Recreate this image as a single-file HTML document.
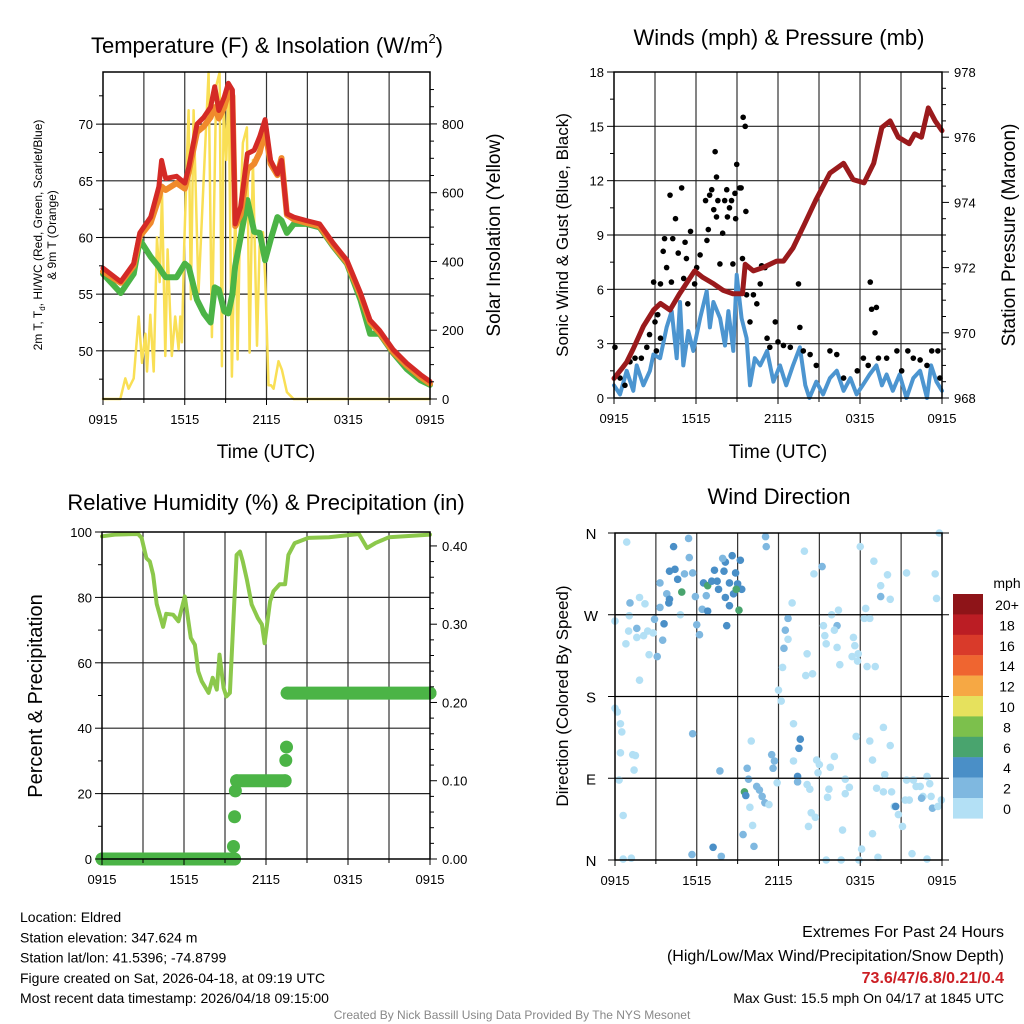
<!DOCTYPE html>
<html><head><meta charset="utf-8"><style>
html,body{margin:0;padding:0;background:#fff;}
svg{display:block;font-family:"Liberation Sans",sans-serif;}
</style></head><body>
<svg id="c" width="1024" height="1024" viewBox="0 0 1024 1024" xmlns="http://www.w3.org/2000/svg"></svg>
<script>
// ---------- DATA ----------
const xTickLabels = ["0915","1515","2115","0315","0915"];
const tempTime = [0,1.3,2.25,2.7,3.5,4.1,4.3,4.6,5.4,6.0,6.3,6.9,7.4,7.9,8.2,8.5,8.9,9.2,9.5,9.7,10.1,10.6,11.1,11.5,11.9,12.3,12.8,13.1,13.5,14.0,14.9,15.9,16.9,17.9,18.9,19.6,20.3,21.3,22.3,23.3,24];
const tempRed = [57.3,56.1,57.7,60.4,61.8,64.5,66.8,65.2,65.4,64.8,66.2,70.0,70.6,71.5,73.3,71.2,72.4,73.6,73.0,61.2,62.7,67.4,67.7,68.9,70.4,66.8,65.6,66.8,62.1,61.8,61.5,61.2,59.5,58.0,55.1,52.7,51.8,50.1,48.9,47.9,47.3];
const tempOrange = [57.0,56.0,57.5,60.1,61.3,63.5,64.5,64.2,64.8,64.3,65.8,69.3,69.8,70.6,71.5,70.5,71.5,72.8,72.5,61.0,62.0,66.0,66.5,67.5,69.5,66.5,65.5,67.0,62.0,61.6,61.3,61.0,59.3,57.8,54.9,52.5,51.6,49.9,48.7,47.7,47.1];
const dewGreen = [56.8,55.1,56.8,59.8,58.3,57.4,57.0,56.5,56.5,57.7,57.4,54.5,53.3,52.5,55.6,55.4,53.5,53.3,55.0,57.5,60.0,63.3,60.5,60.4,58.0,59.8,61.8,61.5,60.4,61.2,61.2,60.9,59.2,57.7,54.5,51.5,51.5,49.8,48.4,47.4,47.0];
const solarTime = [0,1.27,1.64,1.88,2.25,2.62,2.86,3.11,3.23,3.47,3.72,3.96,4.16,4.33,4.57,4.74,5.05,5.3,5.55,5.67,5.79,5.96,6.1,6.28,6.45,6.65,7.01,7.75,7.99,8.31,8.56,8.73,8.85,9.05,9.22,9.46,9.71,9.88,10.07,10.27,10.56,10.76,11.0,11.3,11.49,11.74,11.91,12.15,12.33,12.52,12.88,13.13,13.5,13.99,24];
const solarVals = [0,0,60,30,60,240,105,190,80,245,80,470,340,600,125,435,125,240,145,240,165,445,620,840,290,840,310,950,180,910,950,95,850,695,920,65,570,115,545,745,790,135,695,155,445,485,345,40,40,30,110,85,20,0,0];
const presTime = [0,0.56,0.93,1.4,2.15,2.9,3.4,4.1,4.8,5.9,6.5,7.3,8.0,8.7,9.4,9.6,10.2,10.9,11.9,12.4,13.1,13.9,14.8,15.8,16.8,17.5,18.3,19.0,19.6,20.2,20.8,21.6,22.0,22.5,23.0,23.5,24];
const presVals = [968.6,968.9,969.1,969.5,970.2,970.7,970.9,970.7,971.2,971.9,971.7,971.5,971.3,971.2,971.2,972.1,971.9,972.0,972.2,972.2,972.6,973.3,974.1,974.9,975.2,974.7,974.6,975.2,976.3,976.5,976.0,975.8,976.1,976.0,976.9,976.5,976.2];
const windTime = [0,0.44,0.93,1.41,1.66,2.15,2.63,2.88,3.37,3.85,4.22,4.59,4.83,5.07,5.44,5.8,6.3,6.78,7.02,7.27,7.76,8.12,8.37,8.73,8.98,9.34,9.7,9.95,10.3,10.7,11.2,11.66,12.15,12.6,13.1,13.6,14.0,14.3,14.8,15.3,15.8,16.3,16.8,17.3,17.75,18.2,18.7,19.2,19.6,19.95,20.4,20.9,21.4,21.9,22.4,22.9,23.2,23.6,24];
const windVals = [0.7,0.2,1.5,0.4,1.8,0.7,1.5,2.4,2.2,3.9,4.8,2.2,5.3,1.8,3.7,2.6,4.4,5.9,3.9,5.3,4.4,2.9,4.8,2.6,6.8,4.4,3.3,0.7,2.2,1.8,2.6,0.9,1.8,0.7,1.8,2.8,0.7,0,0.9,0.2,1.1,1.5,0.4,1.1,0.2,0.7,1.3,1.8,0.7,1.3,0.4,1.3,0,1.1,1.5,0,1.8,0.9,0.4];
const gustTime = [0.07,0.44,0.8,1.17,1.54,2.0,2.4,2.6,3.0,3.2,3.4,3.1,2.9,3.4,3.6,3.7,3.85,4.1,4.2,4.3,4.5,4.7,4.95,5.1,5.2,5.3,5.6,5.4,5.9,6.05,6.3,6.7,6.8,6.9,7.0,7.15,7.3,7.4,7.5,7.5,7.6,7.75,7.95,8.1,8.25,8.3,8.45,8.6,8.7,8.85,8.9,8.98,9.2,9.3,9.4,9.45,9.6,9.65,9.7,9.95,10.2,10.45,10.7,10.8,11.05,11.2,11.4,11.8,12.0,12.4,12.9,13.5,13.6,13.85,14.35,14.8,15.8,16.3,16.8,17.8,18.25,18.6,18.75,18.85,19.2,19.1,19.35,19.95,20.7,21.05,21.5,21.9,22.4,22.9,23.25,23.7,23.85];
const gustVals = [2.8,1.1,0.7,2.0,2.2,2.2,2.8,3.5,4.2,4.6,3.3,2.6,6.4,6.3,8.1,8.8,7.2,11.2,6.4,8.8,9.9,8.0,11.6,6.6,8.6,7.7,9.2,5.2,6.3,7.2,7.9,10.9,8.7,9.3,11.2,11.5,10.4,13.6,12.2,10.0,10.9,7.4,9.1,10.9,11.5,10.0,10.5,10.9,7.4,11.3,9.9,12.9,11.6,11.6,7.7,15.5,15.0,10.3,5.7,4.2,5.7,5.2,6.3,7.3,7.2,3.3,2.8,4.2,3.1,2.9,2.8,6.3,3.9,2.6,2.4,1.8,2.6,2.4,1.1,1.5,2.2,1.8,6.4,4.9,5.0,3.6,2.2,2.2,2.6,1.5,2.6,2.2,2.1,1.8,2.6,2.6,1.1];
const rhTime = [0,0.93,2.64,2.9,3.25,3.5,3.74,4.0,4.47,4.7,5.2,5.6,6.06,6.5,6.8,7.04,7.3,7.8,8.1,8.4,8.6,8.9,9.1,9.36,9.6,9.85,10.1,10.3,10.6,10.95,11.4,11.7,11.9,12.3,12.55,13.0,13.4,13.64,14.1,15.1,16.6,18.8,19.4,20.0,21.0,24];
const rhVals = [98.7,99.2,99.4,98.2,92,91,87,78,71,75,74.7,72.7,80.3,67.6,65.5,57.4,54.3,50.8,55.4,51.8,62.5,52.3,49.7,50.8,71.7,93,94,91,85.4,77.8,73.7,71.7,66,78.8,81.9,84,84,93,96.6,98.2,98.4,99.4,95.1,96.6,98.4,99.2];
const precipTime = [0,9.7,9.62,9.7,9.76,9.85,13.4,13.45,13.5,13.55,24];
const precipVals = [0,0,0.016,0.054,0.087,0.1,0.1,0.126,0.143,0.212,0.212];
const dirTime = [0.86,0,1.1,1.8,2.2,1.05,1.6,1.0,0.8,1.6,2.1,2.4,2.8,2.5,3.1,1.8,2.9,3.3,3.6,3.5,3.3,3.8,4.0,3.95,4.9,4.0,4.4,4.6,5.1,4.3,5.4,5.45,4.8,5.7,5.9,6.0,6.2,6.4,6.8,6.7,6.5,6.8,7.1,7.3,7.6,7.5,8.0,8.1,8.6,8.85,8.4,8.1,8.4,8.7,9.0,9.2,9.3,8.9,9.1,8.2,7.9,11.05,11.1,13.9,14.6,15.2,18.0,19.0,20.0,19.5,19.5,20.2,21.4,23.5,23.6,23.8,18.4,18.3,18.7,16.4,15.9,15.3,16.3,16.1,15.4,15.5,16.3,16.5,17.5,17.6,17.4,17.85,17.8,18.5,19.1,12.7,13.0,12.5,12.7,12.4,12.3,14.1,14.0,14.5,12.0,12.2,0,0.17,0.4,0.5,0.4,1.3,1.5,1.4,0.3,0.6,0.6,1.2,5.7,7.7,7.2,5.65,7.8,10.0,9.7,9.8,9.5,9.6,9.9,10.1,9.4,10.2,10.4,10.6,10.8,11.0,11.3,11.5,11.7,11.6,11.9,13.1,13.1,13.6,13.5,13.4,13.4,14.1,14.3,14.4,14.7,14.2,14.8,15.0,14.9,15.8,16.1,15.7,15.6,16.9,17.2,16.9,16.7,15.5,16.6,17.9,18.1,19.3,18.9,17.7,18.7,18.9,19.8,19.7,20.2,19.2,19.7,20.3,20.5,20.6,20.8,21.1,21.4,21.3,21.8,21.9,22.1,22.4,22.6,22.9,23.1,22.5,23.2,23.3,23.7,23.95,22.9,21.6];
const dirDeg = [350,263,283,289,282,269,255,252,238,245,247,252,250,226,224,198,265,278,260,242,305,293,287,283,295,318,320,309,315,345,354,333,270,316,290,259,248,276,274,291,305,302,307,319,298,307,318,328,335,316,305,289,280,293,304,330,298,298,275,258,332,356,345,340,315,323,345,329,314,302,290,287,316,315,288,360,277,266,266,275,270,258,258,253,247,238,234,215,245,236,224,227,219,213,213,266,283,253,243,233,212,227,203,205,187,175,167,163,150,141,118,116,115,99,88,49,1,2,139,98,14,6,4,131,101,89,75,71,58,38,28,15,81,77,70,63,61,116,109,101,85,150,109,133,123,92,86,83,78,52,47,37,110,105,96,102,114,78,69,89,80,73,33,0,0,0,12,3,29,136,131,110,94,146,126,79,75,75,59,59,50,37,88,66,7,88,81,81,70,92,84,68,70,57,59,66,1,66];
const dirSpeed = [1,1,3,1,1,1,3,1,1,1,1,1,1,1,3,1,3,3,5,3,3,3,5,5,7,5,5,5,3,5,3,3,1,3,3,3,3,3,5,3,5,7,5,5,5,5,5,5,5,5,5,5,5,5,5,5,5,7,7,5,3,3,3,1,1,3,1,1,1,1,3,1,1,1,1,1,1,1,1,1,1,1,3,1,1,1,1,1,1,1,1,1,1,1,1,3,1,3,1,3,1,1,1,1,1,1,1,1,1,1,1,1,1,1,1,1,1,1,3,3,5,3,3,1,3,3,7,5,1,1,3,3,3,3,3,3,1,3,3,3,1,1,1,5,5,5,3,1,1,1,1,1,1,1,1,1,1,1,1,1,1,1,1,1,1,1,1,1,1,1,1,1,1,1,1,1,1,1,1,5,1,1,1,1,1,1,1,1,1,1,1,3,1,3,1,1,1,1,1,1];
const cbarLabels = ["20+","18","16","14","12","10","8","6","4","2","0"];
const cbarColors = ["#8e1418","#bb1d24","#d93a2a","#ef6530","#f6a844","#e6e15d","#7cc04c","#49a46e","#4a8fc7","#7fb8e0","#b3e0f5"];

// ---------- DRAWING ----------
const svg = document.getElementById('c');
const NS = "http://www.w3.org/2000/svg";
function mk(tag, attrs, parent){
  const e = document.createElementNS(NS, tag);
  for (const k in attrs) e.setAttribute(k, attrs[k]);
  (parent||svg).appendChild(e);
  return e;
}
function txt(s, x, y, size, anchor, rot, name, fill, weight){
  const t = mk('text', {x:x, y:y, 'font-size':size, 'text-anchor':anchor||'middle', fill:fill||'#000'});
  if (weight) t.setAttribute('font-weight', weight);
  if (rot) t.setAttribute('transform', 'rotate(' + rot + ' ' + x + ' ' + y + ')');
  t.textContent = s;
  
  
  return t;
}
function panel(p){
  const g = mk('g', {});
  
  
  p.g = g;
  p.sx = t => p.x0 + t / 24 * (p.x1 - p.x0);
  p.sy = v => p.y1 - (v - p.lmin) / (p.lmax - p.lmin) * (p.y1 - p.y0);
  p.sy2 = v => p.y1 - (v - p.rmin) / (p.rmax - p.rmin) * (p.y1 - p.y0);
  for (let i = 1; i < 8; i++){
    const x = p.sx(i*3);
    const l = mk('line', {x1:x, x2:x, y1:p.y0, y2:p.y1, stroke:'#333', 'stroke-width':1.2}, g);
    
    
  }
  p.hgrid.forEach(v => {
    const y = p.sy(v);
    const l = mk('line', {x1:p.x0, x2:p.x1, y1:y, y2:y, stroke:'#222', 'stroke-width':1.2}, g);
    
    
  });
  return g;
}
function frame(p){
  const r = mk('rect', {x:p.x0, y:p.y0, width:p.x1-p.x0, height:p.y1-p.y0, fill:'none', stroke:'#000', 'stroke-width':1.5}, p.g);
  
  
  xTickLabels.forEach((s,i) => {
    const x = p.sx(i*6);
    mk('line', {x1:x, x2:x, y1:p.y1, y2:p.y1+6, stroke:'#000'}, p.g);
    txt(s, x, p.y1+25, 13, 'middle', 0, 'x-tick-label');
  });
  for (let i = 1; i < 8; i++) if (i%2) { const x=p.sx(i*3); mk('line',{x1:x,x2:x,y1:p.y1,y2:p.y1+4,stroke:'#000'},p.g); }
}
function leftTicks(p, vals, labels, minor){
  vals.forEach((v,i)=>{ const y=p.sy(v); mk('line',{x1:p.x0-7,x2:p.x0,y1:y,y2:y,stroke:'#000'},p.g); if(labels) txt(labels[i], p.x0-10, y+5, 13, 'end', 0, 'y-tick-label'); });
  (minor||[]).forEach(v=>{ const y=p.sy(v); mk('line',{x1:p.x0-4,x2:p.x0,y1:y,y2:y,stroke:'#000'},p.g); });
}
function rightTicks(p, vals, labels, minor){
  vals.forEach((v,i)=>{ const y=p.sy2(v); mk('line',{x1:p.x1,x2:p.x1+7,y1:y,y2:y,stroke:'#000'},p.g); txt(labels[i], p.x1+12, y+5, 13, 'start', 0, 'y2-tick-label'); });
  (minor||[]).forEach(v=>{ const y=p.sy2(v); mk('line',{x1:p.x1,x2:p.x1+4,y1:y,y2:y,stroke:'#000'},p.g); });
}
function line(p, ts, vs, right, color, w, name){
  const d = ts.map((t,i)=> (i?'L':'M') + p.sx(t).toFixed(1) + ',' + (right?p.sy2(vs[i]):p.sy(vs[i])).toFixed(1)).join('');
  const e = mk('path', {d:d, fill:'none', stroke:color, 'stroke-width':w, 'stroke-linejoin':'round', 'stroke-linecap':'round'}, p.g);
  
  
  return e;
}

// Panel 1: temperature
const P1 = {name:'temperature-panel', x0:103, x1:430, y0:72, y1:399, lmin:45.75, lmax:74.6, rmin:0, rmax:951, hgrid:[50,55,60,65,70]};
panel(P1);
line(P1, solarTime, solarVals, true, '#f9df55', 2.5, 'solar-insolation-line');
line(P1, tempTime, dewGreen, false, '#4bb446', 6, 'dewpoint-line');
line(P1, tempTime, tempOrange, false, '#f08a2c', 6, 'temp-9m-line');
line(P1, tempTime, tempRed, false, '#d42a26', 5, 'temp-2m-line');
frame(P1);
leftTicks(P1, [50,55,60,65,70], ['50','55','60','65','70'], [47.5,52.5,57.5,62.5,67.5,72.5]);
rightTicks(P1, [0,200,400,600,800], ['0','200','400','600','800'], [50,100,150,250,300,350,450,500,550,650,700,750,850,900]);
{
  const t = mk('text', {x:267, y:53, 'font-size':22, 'text-anchor':'middle'});
  
  
  const a = mk('tspan', {}, t); a.textContent = 'Temperature (F) & Insolation (W/m';
  const b = mk('tspan', {'font-size':13, dy:-10}, t); b.textContent = '2';
  const c = mk('tspan', {dy:10}, t); c.textContent = ')';
}
{
  const t = mk('text', {x:42, y:235, 'font-size':12, 'text-anchor':'middle', transform:'rotate(-90 42 235)'});
  
  
  const a = mk('tspan', {}, t); a.textContent = '2m T, T';
  const b = mk('tspan', {'font-size':8, dy:3}, t); b.textContent = 'd';
  const c = mk('tspan', {dy:-3}, t); c.textContent = ', HI/WC (Red, Green, Scarlet/Blue)';
}
txt('& 9m T (Orange)', 56, 235, 12, 'middle', -90, 'temperature-y-label-2');
txt('Solar Insolation (Yellow)', 500, 235, 19, 'middle', -90, 'solar-y-label');
txt('Time (UTC)', 266, 458, 19, 'middle', 0, 'x-axis-title');

// Panel 2: winds
const P2 = {name:'winds-panel', x0:614, x1:942, y0:72, y1:398, lmin:0, lmax:18, rmin:968, rmax:978, hgrid:[3,6,9,12,15]};
panel(P2);
line(P2, windTime, windVals, false, '#4c95d0', 4, 'sustained-wind-line');
gustTime.forEach((t,i)=>{
  const c = mk('circle', {cx:P2.sx(t), cy:P2.sy(gustVals[i]), r:2.8, fill:'#000'}, P2.g);
  
  
});
line(P2, presTime, presVals, true, '#9a1a1c', 5, 'pressure-line');
frame(P2);
leftTicks(P2, [0,3,6,9,12,15,18], ['0','3','6','9','12','15','18'], [1.5,4.5,7.5,10.5,13.5,16.5]);
rightTicks(P2, [968,970,972,974,976,978], ['968','970','972','974','976','978'], [968.5,969,969.5,970.5,971,971.5,972.5,973,973.5,974.5,975,975.5,976.5,977,977.5]);
txt('Winds (mph) & Pressure (mb)', 779, 45, 22, 'middle', 0, 'winds-title');
txt('Sonic Wind & Gust (Blue, Black)', 568, 235, 17, 'middle', -90, 'wind-y-label');
txt('Station Pressure (Maroon)', 1015, 235, 19, 'middle', -90, 'pressure-y-label');
txt('Time (UTC)', 778, 458, 19, 'middle', 0, 'x-axis-title');

// Panel 3: humidity
const P3 = {name:'humidity-panel', x0:102, x1:430, y0:532, y1:859, lmin:0, lmax:100, rmin:0, rmax:0.4178, hgrid:[20,40,60,80]};
panel(P3);
line(P3, rhTime, rhVals, false, '#8cc84b', 4, 'relative-humidity-line');
precipTime.forEach((t,i)=>{
  if (i>0 && precipVals[i]===precipVals[i-1]){
    const l = mk('line', {x1:P3.sx(precipTime[i-1]), x2:P3.sx(t), y1:P3.sy2(precipVals[i]), y2:P3.sy2(precipVals[i]), stroke:'#4bb446', 'stroke-width':13, 'stroke-linecap':'round'}, P3.g);
    
    
  }
  const c = mk('circle', {cx:P3.sx(t), cy:P3.sy2(precipVals[i]), r:6.5, fill:'#4bb446'}, P3.g);
  
  
});
frame(P3);
leftTicks(P3, [0,20,40,60,80,100], ['0','20','40','60','80','100'], [10,30,50,70,90]);
rightTicks(P3, [0,0.1,0.2,0.3,0.4], ['0.00','0.10','0.20','0.30','0.40'], [0.02,0.04,0.06,0.08,0.12,0.14,0.16,0.18,0.22,0.24,0.26,0.28,0.32,0.34,0.36,0.38]);
txt('Relative Humidity (%) & Precipitation (in)', 266, 510, 22, 'middle', 0, 'humidity-title');
txt('Percent & Precipitation', 42, 696, 20, 'middle', -90, 'humidity-y-label');

// Panel 4: wind direction
const P4 = {name:'wind-direction-panel', x0:615, x1:942, y0:533, y1:860, lmin:0, lmax:360, rmin:0, rmax:1, hgrid:[90,180,270]};
panel(P4);
function speedColor(s){ const idx = Math.min(10, Math.floor(s/2)); return cbarColors[10-idx]; }
dirTime.forEach((t,i)=>{
  const c = mk('circle', {cx:P4.sx(t), cy:P4.sy(dirDeg[i]), r:3.8, fill:speedColor(dirSpeed[i])}, P4.g);
  
  
});
frame(P4);
['N','E','S','W','N'].forEach((s,i)=>{ const y=P4.sy(i*90); mk('line',{x1:P4.x0-7,x2:P4.x1+7,y1:y,y2:y,stroke:'#000','stroke-width':1}, P4.g); txt(s, P4.x0-24, y+6, 15, 'middle', 0, 'direction-tick-label'); });
txt('Wind Direction', 779, 504, 22, 'middle', 0, 'wind-direction-title');
txt('Direction (Colored By Speed)', 568, 696, 17, 'middle', -90, 'direction-y-label');
const cb = mk('g', {});


cbarColors.forEach((col,i)=>{
  const y = 594 + i*20.4;
  const r = mk('rect', {x:953, y:y, width:30, height:20.6, fill:col}, cb);
  
  
  txt(cbarLabels[i], 1007, y+16, 14, 'middle', 0, 'colorbar-label');
});
txt('mph', 1007, 588, 14, 'middle', 0, 'colorbar-unit');

// Footer
const info = ['Location: Eldred','Station elevation: 347.624 m','Station lat/lon: 41.5396; -74.8799','Figure created on Sat, 2026-04-18, at 09:19 UTC','Most recent data timestamp: 2026/04/18 09:15:00'];
info.forEach((s,i)=> txt(s, 20, 922 + i*20.3, 14, 'start', 0, 'station-info-line'));
txt('Extremes For Past 24 Hours', 1004, 937, 16, 'end', 0, 'extremes-heading');
txt('(High/Low/Max Wind/Precipitation/Snow Depth)', 1004, 961, 16, 'end', 0, 'extremes-legend');
txt('73.6/47/6.8/0.21/0.4', 1004, 983, 16, 'end', 0, 'extremes-values', '#cc1f24', 'bold');
txt('Max Gust: 15.5 mph On 04/17 at 1845 UTC', 1004, 1003, 14, 'end', 0, 'max-gust');
txt('Created By Nick Bassill Using Data Provided By The NYS Mesonet', 512, 1019, 12, 'middle', 0, 'credits', '#888');
</script>
</body></html>
